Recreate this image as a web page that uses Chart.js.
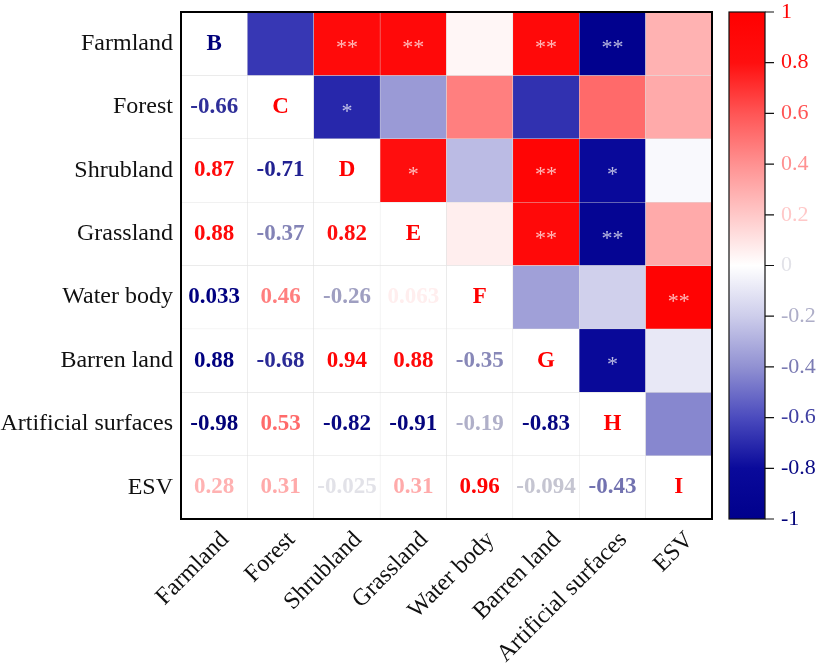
<!DOCTYPE html>
<html>
<head>
<meta charset="utf-8">
<script src="https://cdn.jsdelivr.net/npm/chart.js@4.4.1/dist/chart.umd.min.js"></script>
<style>
  html, body { margin: 0; padding: 0; background: #fff; }
  #wrap { width: 823px; height: 664px; }
</style>
</head>
<body>
<div id="wrap"><canvas id="heat" width="823" height="664"></canvas></div>
<script>
const labels = ['Farmland', 'Forest', 'Shrubland', 'Grassland', 'Water body', 'Barren land', 'Artificial surfaces', 'ESV'];
const diagLetters = ['B', 'C', 'D', 'E', 'F', 'G', 'H', 'I'];

// lower triangle r values, row by row
const rForest = [-0.66];
const rShrubland = [0.87, -0.71];
const rGrassland = [0.88, -0.37, 0.82];
const rWater = [0.033, 0.46, -0.26, 0.063];
const rBarren = [0.88, -0.68, 0.94, 0.88, -0.35];
const rArtificial = [-0.98, 0.53, -0.82, -0.91, -0.19, -0.83];
const rESV = [0.28, 0.31, -0.025, 0.31, 0.96, -0.094, -0.43];

// significance marks, shown in the mirrored (upper) cell
const sForest = [''];
const sShrubland = ['**', '*'];
const sGrassland = ['**', '', '*'];
const sWater = ['', '', '', ''];
const sBarren = ['**', '', '**', '**', ''];
const sArtificial = ['**', '', '*', '**', '', '*'];
const sESV = ['', '', '', '', '**', '', ''];

const colorbarTicks = [-1, -0.8, -0.6, -0.4, -0.2, 0, 0.2, 0.4, 0.6, 0.8, 1];

const lower = [[], rForest, rShrubland, rGrassland, rWater, rBarren, rArtificial, rESV];
const sig = [[], sForest, sShrubland, sGrassland, sWater, sBarren, sArtificial, sESV];

function value(i, j) {
  if (i > j) return lower[i][j];
  if (j > i) return lower[j][i];
  return 1;
}

// red-white-blue colour scale
const stops = [
  [-1, [0, 0, 140]], [-0.8, [10, 10, 155]], [-0.6, [75, 75, 190]], [-0.4, [145, 145, 210]],
  [-0.2, [205, 205, 235]], [0, [255, 255, 255]], [0.2, [255, 200, 200]], [0.4, [255, 145, 145]],
  [0.6, [255, 85, 85]], [0.8, [255, 15, 15]], [1, [255, 0, 0]]
];
function cmap(v) {
  v = Math.max(-1, Math.min(1, v));
  for (let k = 0; k < stops.length - 1; k++) {
    const [a, ca] = stops[k], [b, cb] = stops[k + 1];
    if (v >= a && v <= b) {
      const t = (v - a) / (b - a);
      return ca.map((c, n) => c + (cb[n] - c) * t);
    }
  }
  return stops[stops.length - 1][1];
}
const rgb = c => 'rgb(' + c.map(Math.round).join(',') + ')';

function textColor(v) {
  if (Math.abs(v) < 0.05) return 'rgb(226,226,232)';
  let c = cmap(v);
  if (v < 0) c = c.map(x => x * 0.85);
  return rgb(c);
}
const textOverride = { '4,0': '#000080', '5,0': '#000080' };

function cellColor(i, j) {
  return j > i ? rgb(cmap(value(i, j))) : '#ffffff';
}

const serif = 'Liberation Serif, Times New Roman, serif';

const cellText = {
  id: 'cellText',
  afterDatasetsDraw(chart) {
    const { ctx, scales: { x, y } } = chart;
    ctx.save();
    ctx.textAlign = 'center';
    ctx.textBaseline = 'middle';
    labels.forEach((_, i) => {
      const py = y.getPixelForValue(i + 0.5);
      labels.forEach((_, j) => {
        const px = x.getPixelForValue(j);
        if (i === j) {
          ctx.font = 'bold 23px ' + serif;
          ctx.fillStyle = i === 0 ? '#00007a' : '#ff0000';
          ctx.fillText(diagLetters[i], px, py);
        } else if (i > j) {
          const v = lower[i][j];
          ctx.font = 'bold 23px ' + serif;
          ctx.fillStyle = textOverride[i + ',' + j] || textColor(v);
          ctx.fillText(String(v), px, py);
        } else {
          const mark = sig[j][i];
          if (mark) {
            ctx.font = '22px ' + serif;
            ctx.fillStyle = 'rgba(255,255,255,0.72)';
            ctx.fillText(mark, px, py + 5);
          }
        }
      });
    });
    ctx.restore();
  }
};

const frame = {
  id: 'frame',
  afterDraw(chart) {
    const { ctx, chartArea: a } = chart;
    ctx.save();
    ctx.strokeStyle = '#000';
    ctx.lineWidth = 2;
    ctx.strokeRect(a.left, a.top, a.right - a.left, a.bottom - a.top);
    ctx.restore();
  }
};

const colorbar = {
  id: 'colorbar',
  afterDraw(chart) {
    const { ctx } = chart;
    const cb = chart.scales.cb;
    const top = cb.getPixelForValue(1), bottom = cb.getPixelForValue(-1);
    const x1 = cb.left + 17, x2 = cb.left + 53;
    const grad = ctx.createLinearGradient(0, bottom, 0, top);
    stops.forEach(([v, c]) => grad.addColorStop((v + 1) / 2, rgb(c)));
    ctx.save();
    ctx.fillStyle = grad;
    ctx.fillRect(x1, top, x2 - x1, bottom - top);
    ctx.strokeStyle = '#111';
    ctx.lineWidth = 1.2;
    ctx.strokeRect(x1, top, x2 - x1, bottom - top);
    ctx.beginPath();
    cb.ticks.forEach(t => {
      const py = cb.getPixelForValue(t.value);
      ctx.moveTo(x2, py);
      ctx.lineTo(x2 + 9, py);
    });
    ctx.stroke();
    ctx.restore();
  }
};

// keep tick padding from pushing the plot area down
const noVPad = s => { s.paddingTop = 0; s.paddingBottom = 0; };

new Chart(document.getElementById('heat'), {
  type: 'bar',
  data: {
    labels: labels,
    datasets: labels.map((name, i) => ({
      label: name,
      data: labels.map(() => 1),
      backgroundColor: c => cellColor(i, c.dataIndex),
      borderColor: '#e0e0e0',
      borderWidth: 0.5,
      borderSkipped: false,
      barPercentage: 1,
      categoryPercentage: 1
    }))
  },
  options: {
    responsive: false,
    animation: false,
    layout: { padding: { top: 12, left: 0, right: 0, bottom: 0 } },
    plugins: { legend: { display: false }, tooltip: { enabled: false } },
    scales: {
      x: {
        stacked: true,
        grid: { display: false, drawTicks: false },
        border: { display: false },
        ticks: {
          autoSkip: false, minRotation: 45, maxRotation: 45, padding: 7, labelOffset: 11,
          color: '#111', font: { family: serif, size: 24 }
        },
        afterFit: s => { s.height = 145; }
      },
      y: {
        type: 'linear',
        stacked: true,
        reverse: true,
        min: 0,
        max: 8,
        grid: { display: false, drawTicks: false },
        border: { display: false },
        afterBuildTicks: s => { s.ticks = labels.map((_, i) => ({ value: i + 0.5 })); },
        ticks: {
          padding: 8,
          color: '#111',
          font: { family: serif, size: 24 },
          callback: v => labels[Math.floor(v)]
        },
        afterFit: s => { s.width = 181; noVPad(s); }
      },
      cb: {
        type: 'linear',
        position: 'right',
        min: -1,
        max: 1,
        grid: { display: false, drawTicks: false },
        border: { display: false },
        afterBuildTicks: s => { s.ticks = colorbarTicks.map(v => ({ value: v })); },
        ticks: {
          padding: 69,
          font: { family: serif, size: 22 },
          color: c => textColor(c.tick.value),
          callback: v => String(Math.round(v * 10) / 10)
        },
        afterFit: s => { s.width = 111; noVPad(s); }
      }
    }
  },
  plugins: [cellText, frame, colorbar]
});
</script>
</body>
</html>
